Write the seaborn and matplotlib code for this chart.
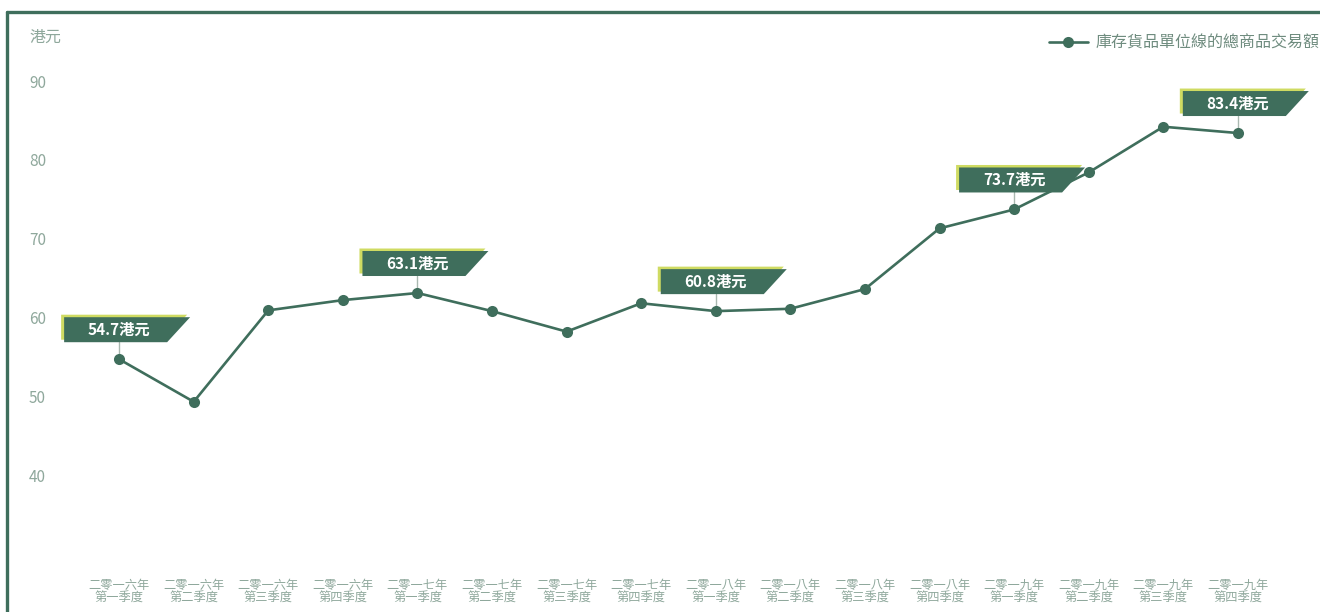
import matplotlib
matplotlib.use("Agg")
import matplotlib.pyplot as plt
from matplotlib.patches import Polygon
from matplotlib.lines import Line2D
from matplotlib.transforms import IdentityTransform
import seaborn as sns
import pandas as pd

# Quarterly series
years = ["二零一六年"] * 4 + ["二零一七年"] * 4 + ["二零一八年"] * 4 + ["二零一九年"] * 4
quarters = ["第一季度", "第二季度", "第三季度", "第四季度"] * 4
categories = [f"{y}\n{q}" for y, q in zip(years, quarters)]
gmv = [54.7, 49.3, 60.9, 62.2, 63.1, 60.8, 58.2, 61.8,
       60.8, 61.1, 63.6, 71.3, 73.7, 78.4, 84.2, 83.4]
callout_idx = [0, 4, 8, 12, 15]
y_ticks = [40, 50, 60, 70, 80, 90]
series_name = "庫存貨品單位線的總商品交易額"
unit = "港元"

GREEN = "#3f6e5c"
TICK = "#8fa89c"
LEGEND_TXT = "#6f8c7f"
SHADOW = "#cfdb62"

sns.set_style("white")
plt.rcParams["font.family"] = ["Noto Sans CJK TC", "DejaVu Sans"]

fig = plt.figure(figsize=(13.2, 6.12), dpi=100, facecolor="white")
ax = fig.add_axes([0.062, 0.095, 0.904, 0.837])

df = pd.DataFrame({"季度": categories, "交易額": gmv})
sns.lineplot(data=df, x="季度", y="交易額", ax=ax, color=GREEN, linewidth=1.9,
             marker="o", markersize=8, markeredgewidth=0, label=series_name,
             sort=False)

ax.set_xlim(-0.5, len(categories) - 0.5)
ax.set_ylim(30, 95)
ax.set_yticks(y_ticks)
ax.set_xticks(range(len(categories)))
ax.set_xticklabels(categories, fontsize=8.8, color=TICK, linespacing=1.0)
ax.set_xlabel("")
ax.set_ylabel("")
for s in ax.spines.values():
    s.set_visible(False)
ax.tick_params(axis="x", length=0, pad=18)
ax.tick_params(axis="y", length=0, pad=38, labelsize=11, labelcolor=TICK)
for lbl in ax.get_yticklabels():
    lbl.set_ha("left")

# unit caption above the y axis
fig.text(29 / 1320, 1 - 37 / 612, unit, fontsize=11.5, color=TICK, va="center", ha="left")

leg = ax.legend(loc="upper right", bbox_to_anchor=(1326 / 1320, 1 - 28 / 612),
                bbox_transform=fig.transFigure, frameon=False, fontsize=11.5,
                handlelength=2.4, handletextpad=0.5, borderaxespad=0)
for t in leg.get_texts():
    t.set_color(LEGEND_TXT)

# figure frame along top and left edges
fig.add_artist(Line2D([7 / 1320, 1], [1 - 12 / 612, 1 - 12 / 612], transform=fig.transFigure,
                      color=GREEN, linewidth=2.4))
fig.add_artist(Line2D([7 / 1320, 7 / 1320], [0, 1 - 12 / 612], transform=fig.transFigure,
                      color=GREEN, linewidth=2.4))

# value callouts: slanted tag boxes with a thin leader to the point
fig.canvas.draw()
for i in callout_idx:
    px, py = ax.transData.transform((i, gmv[i]))
    bottom = py + 17
    top = bottom + 25
    left = px - 55
    verts = [(left, bottom), (px + 48, bottom), (px + 71, top), (left, top)]
    shadow = [(x - 3, y + 2.5) for x, y in verts]
    ax.add_patch(Polygon(shadow, closed=True, transform=IdentityTransform(),
                         facecolor=SHADOW, edgecolor="none", zorder=4, clip_on=False))
    ax.add_patch(Polygon(verts, closed=True, transform=IdentityTransform(),
                         facecolor=GREEN, edgecolor="none", zorder=5, clip_on=False))
    ax.add_artist(Line2D([px, px], [py + 5, bottom], transform=IdentityTransform(),
                         color="#a9b8b0", linewidth=1.0, zorder=1))
    ax.text(px, (bottom + top) / 2, f"{gmv[i]:.1f}{unit}", transform=IdentityTransform(),
            ha="center", va="center", color="white", fontsize=11, fontweight="bold",
            zorder=6)

fig.savefig("out.png", dpi=100, facecolor="white")
